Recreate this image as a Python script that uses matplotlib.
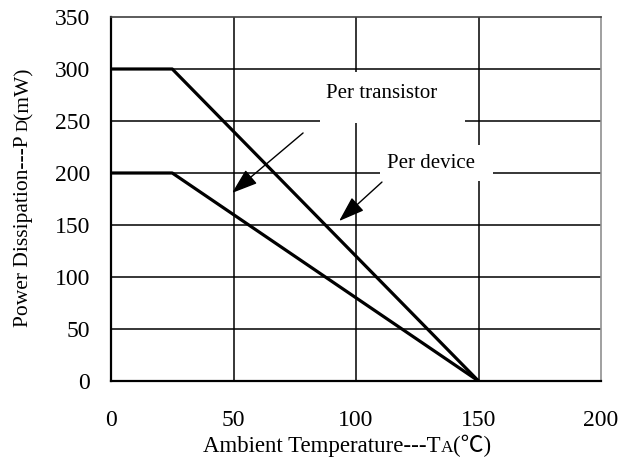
import matplotlib
matplotlib.use("Agg")
import matplotlib.pyplot as plt
from matplotlib.patches import Rectangle

# Data
device_temp = [0, 25, 150]
device_power = [300, 300, 0]
transistor_temp = [0, 25, 150]
transistor_power = [200, 200, 0]
x_ticks = [0, 50, 100, 150, 200]
y_ticks = [0, 50, 100, 150, 200, 250, 300, 350]

FONT = ['Liberation Serif', 'Noto Sans CJK SC', 'DejaVu Sans']
plt.rcParams['font.family'] = FONT

fig = plt.figure(figsize=(6.2, 4.59), dpi=100)
ax = fig.add_axes([111/620, 1-381/459, 490/620, 364/459])
ax.set_xlim(0, 200)
ax.set_ylim(0, 350)

for x in [50, 100, 150]:
    ax.axvline(x, color='black', lw=1.1, zorder=1)
for y in [50, 100, 150, 200, 250, 300]:
    ax.axhline(y, color='black', lw=1.1, zorder=1)

ax.plot(device_temp, device_power, color='black', lw=2.3, zorder=3, solid_capstyle='butt')
ax.plot(transistor_temp, transistor_power, color='black', lw=2.3, zorder=3, solid_capstyle='butt')

# white label boxes
ax.add_patch(Rectangle((85.3, 248), 59.2, 49, facecolor='white', edgecolor='none', zorder=2))
ax.add_patch(Rectangle((109.8, 192.3), 46.1, 34.6, facecolor='white', edgecolor='none', zorder=2))
ax.text(110.6, 276.9, "Per transistor", ha='center', va='center', fontsize=15, zorder=4)
ax.text(130.6, 209.6, "Per device", ha='center', va='center', fontsize=15, zorder=4)

arrow = dict(arrowstyle='-|>,head_length=1.6,head_width=0.55', color='black', lw=1.0,
             shrinkA=0, shrinkB=0)
ax.annotate('', xy=(49.4, 180.8), xytext=(78.4, 238.5), arrowprops=arrow, zorder=5)
ax.annotate('', xy=(93.1, 153.8), xytext=(110.6, 191.3), arrowprops=arrow, zorder=5)

ax.set_xticks(x_ticks)
ax.set_yticks(y_ticks)
ax.set_xticklabels([str(v) for v in x_ticks])
ax.set_yticklabels([str(v) for v in y_ticks])
ax.tick_params(length=0, labelsize=17)
ax.tick_params(axis='x', pad=21)
ax.tick_params(axis='y', pad=15)

ax.spines['left'].set_linewidth(1.6)
ax.spines['bottom'].set_linewidth(1.6)
ax.spines['top'].set_color('#404040')
ax.spines['top'].set_linewidth(1.2)
ax.spines['right'].set_color('#909090')
ax.spines['right'].set_linewidth(1.2)

LS = 16.5
SS = 12.5
# x label, pieced together
y0 = 1 - 452/459
t1 = fig.text(203/620, y0, "Ambient Temperature---T", ha='left', va='baseline', fontsize=LS)
t2 = ax.annotate("A", xy=(1, y0), xycoords=(t1, 'figure fraction'), ha='left', va='baseline',
                 fontsize=SS, annotation_clip=False)
t3 = ax.annotate("(℃)", xy=(1, y0), xycoords=(t2, 'figure fraction'), ha='left', va='baseline',
                 fontsize=LS, annotation_clip=False)

# y label, pieced together
YLS = 15.5
YSS = 12
x0 = 28/620
s1 = fig.text(x0, 1 - 327/459, "Power Dissipation---P ", rotation=90, rotation_mode='anchor',
              ha='left', va='baseline', fontsize=YLS)
s2 = ax.annotate("D", xy=(x0, 1), xycoords=('figure fraction', s1), rotation=90,
                 rotation_mode='anchor', ha='left', va='baseline', fontsize=YSS,
                 annotation_clip=False)
s3 = ax.annotate("(mW)", xy=(x0, 1), xycoords=('figure fraction', s2), rotation=90,
                 rotation_mode='anchor', ha='left', va='baseline', fontsize=YLS,
                 annotation_clip=False)

fig.savefig("out.png", dpi=100)
